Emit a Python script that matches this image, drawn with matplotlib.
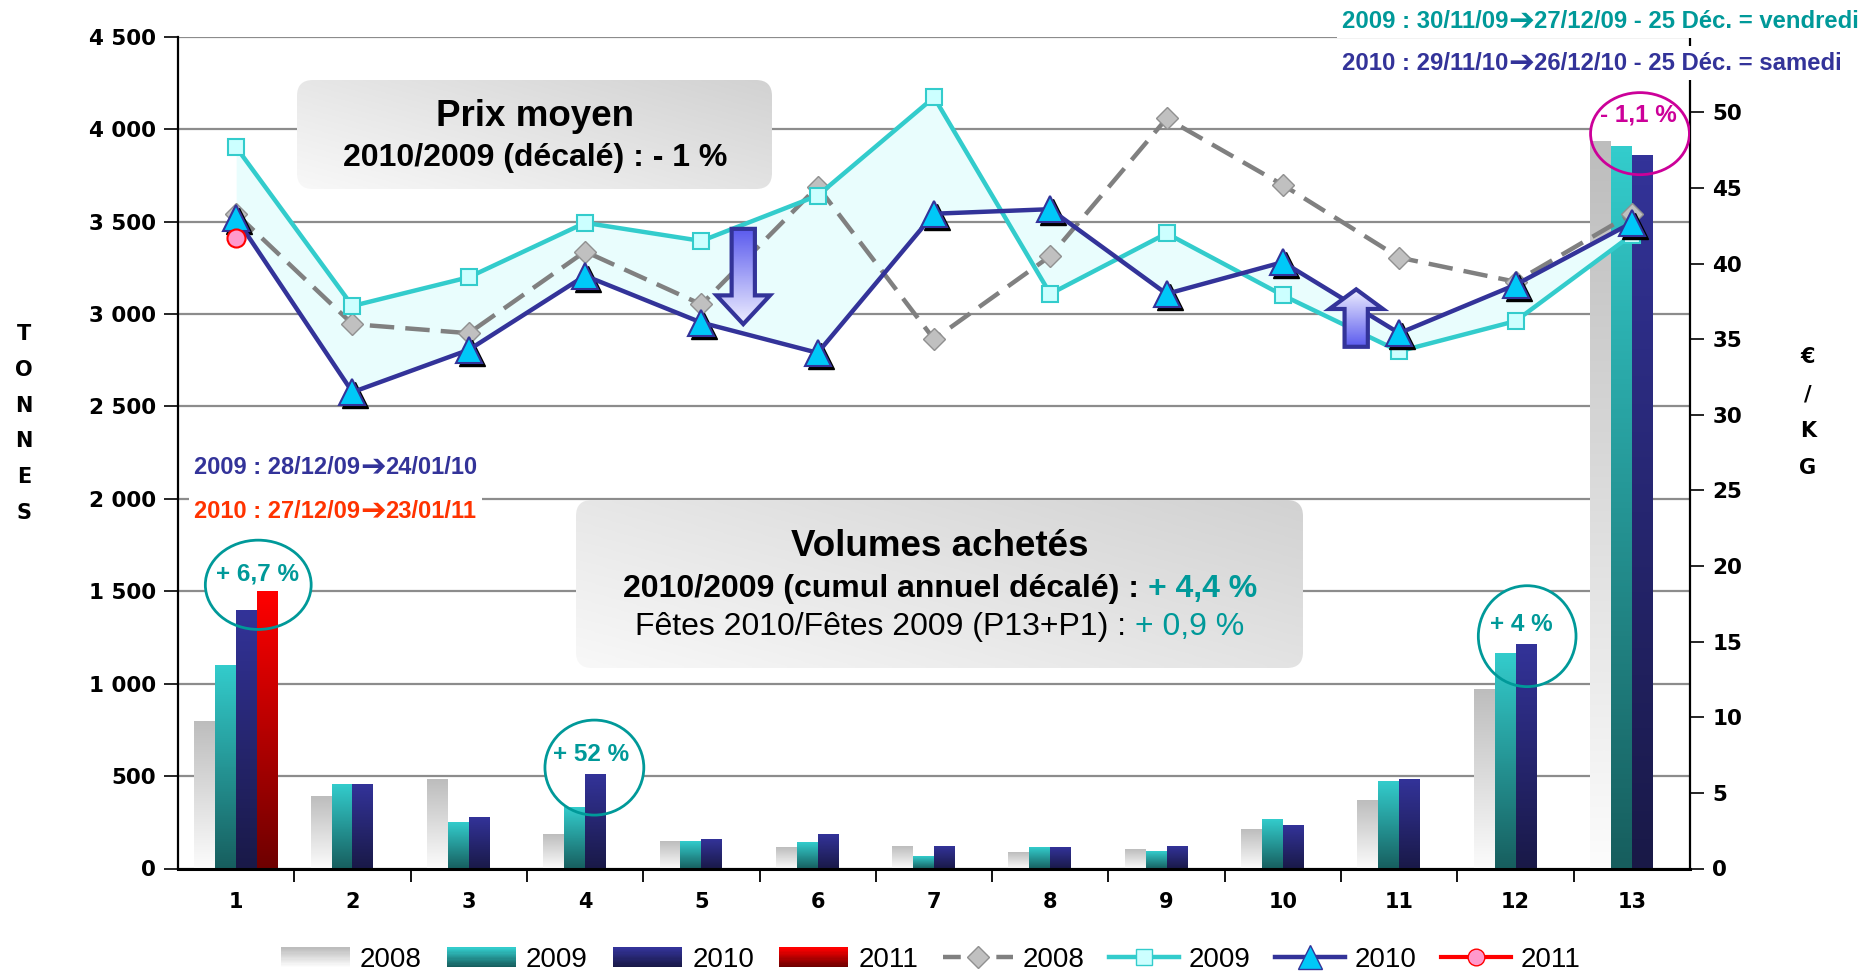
import numpy as np
import matplotlib
matplotlib.use('Agg')
import matplotlib.pyplot as plt
import matplotlib.transforms as mtransforms
from matplotlib.patches import FancyBboxPatch, Ellipse, FancyArrow, Rectangle, Patch
from matplotlib.lines import Line2D
from matplotlib.colors import LinearSegmentedColormap
from matplotlib.legend_handler import HandlerBase
from matplotlib.ticker import FuncFormatter

plt.rcParams['font.family'] = ['Liberation Sans', 'DejaVu Sans']

# ---- data -------------------------------------------------------------
periods = list(range(1, 14))
vol_2008 = [800, 390, 485, 185, 150, 116, 122, 91, 105, 215, 371, 971, 3937]
vol_2009 = [1100, 455, 250, 335, 150, 143, 68, 118, 95, 268, 475, 1166, 3909]
vol_2010 = [1400, 455, 280, 510, 160, 187, 122, 118, 122, 235, 484, 1213, 3862]
periods_2011 = [1]
vol_2011 = [1500]

price_2008 = [43.3, 36.0, 35.4, 40.8, 37.3, 45.1, 35.0, 40.5, 49.6, 45.2, 40.4, 38.8, 43.3]
price_2009 = [47.7, 37.2, 39.1, 42.7, 41.5, 44.5, 51.0, 38.0, 42.0, 37.9, 34.2, 36.2, 41.9]
price_2010 = [43.0, 31.5, 34.3, 39.2, 36.1, 34.1, 43.3, 43.6, 38.0, 40.1, 35.4, 38.6, 42.7]
price_2011 = [41.7]

pct_labels = ['+ 6,7 %', '+ 52 %', '+ 4 %', '- 1,1 %']

# period notes: (before arrow, after arrow)
note_top_2009 = ('2009 : 30/11/09', '27/12/09 - 25 Déc. = vendredi')
note_top_2010 = ('2010 : 29/11/10', '26/12/10 - 25 Déc. = samedi')
note_p1_2009 = ('2009 : 28/12/09', '24/01/10')
note_p1_2010 = ('2010 : 27/12/09', '23/01/11')

W, H = 1863, 973
TEAL = '#009999'
NAVY = '#333399'
ARR = '\u2794'

fig = plt.figure(figsize=(W / 100, H / 100), dpi=100)
ax1 = fig.add_axes([178 / W, 1 - 868.5 / H, (1690 - 178) / W, (868.5 - 36.8) / H])
ax2 = ax1.twinx()

# ---- bars (gradient filled) ------------------------------------------
bw = 0.18
grad_v = np.linspace(0, 1, 128).reshape(-1, 1)
bar_series = [
    ('b2008', periods, vol_2008, -0.27, '#BDBDBD', '#FCFCFC'),
    ('b2009', periods, vol_2009, -0.09, '#33CCCC', '#175E5E'),
    ('b2010', periods, vol_2010, 0.09, '#333399', '#191947'),
    ('b2011', periods_2011, vol_2011, 0.27, '#FF0000', '#6E0000'),
]
for name, xs, vals, off, top, bot in bar_series:
    bars = ax1.bar(np.array(xs) + off, vals, width=bw, color=top, linewidth=0, zorder=2)
    cmap = LinearSegmentedColormap.from_list(name, [bot, top])
    for b in bars:
        x0 = b.get_x()
        ax1.imshow(grad_v, extent=(x0, x0 + b.get_width(), 0, b.get_height()),
                   origin='lower', cmap=cmap, aspect='auto', zorder=2.1,
                   interpolation='bilinear')

ax1.set_axisbelow(True)
ax1.yaxis.grid(True, color='#8C8C8C', linewidth=1.6, zorder=0.5)

# ---- price lines -------------------------------------------------------
ax2.fill_between(periods, price_2009, price_2010, color='#E9FDFD', zorder=1.5, linewidth=0)
ax2.plot(periods, price_2008, color='#808080', lw=3.2, dashes=(5.5, 2.5), marker='D', ms=11,
         mfc='#C0C0C0', mec='#909090', zorder=3)
ax2.plot(periods, price_2009, color='#33CCCC', lw=3.2, marker='s', ms=11,
         mfc='#CCFFFF', mec='#33CCCC', mew=1.5, zorder=3.5)
shadow = mtransforms.offset_copy(ax2.transData, fig=fig, x=3, y=-3, units='dots')
ax2.plot(periods, price_2010, ls='none', marker='^', ms=19, color='black', transform=shadow, zorder=4)
ax2.plot(periods, price_2010, color=NAVY, lw=3.2, marker='^', ms=19,
         mfc='#00C8F8', mec=NAVY, mew=1.5, zorder=4.5)
ax2.plot(periods_2011, price_2011, color='red', lw=3, marker='o', ms=13,
         mfc='#FF99CC', mec='red', mew=1.5, zorder=5)

# block arrows
arrow_specs = [(5.36, 42.3, 36.0, 1.9, ['#EEEEFF', '#5A5AEE']),
               (10.63, 34.5, 38.3, 1.3, ['#5A5AEE', '#EEEEFF'])]
for ax_x, y_from, y_to, hl, cols in arrow_specs:
    arr = FancyArrow(ax_x, y_from, 0, y_to - y_from, width=0.2, head_width=0.46, head_length=hl,
                     length_includes_head=True, facecolor='none', edgecolor=NAVY, lw=3, zorder=6.1)
    ax2.add_patch(arr)
    im = ax2.imshow(grad_v, extent=(ax_x - 0.25, ax_x + 0.25, min(y_from, y_to), max(y_from, y_to)),
                    origin='lower', cmap=LinearSegmentedColormap.from_list('a', cols),
                    aspect='auto', zorder=6, interpolation='bilinear')
    im.set_clip_path(arr)

# ---- ellipses with percentages ---------------------------------------
ell_specs = [(1.19, 1535, 0.91, 483, TEAL, 1594, 1.18),
             (4.08, 546, 0.85, 514, TEAL, 617, 4.05),
             (12.10, 1257, 0.84, 546, TEAL, 1318, 12.05),
             (13.07, 3976, 0.85, 444, '#CC0099', 4076, 13.06)]
for (cx, cy, ew, eh, col, ty, tx), lab in zip(ell_specs, pct_labels):
    ax1.add_patch(Ellipse((cx, cy), ew, eh, facecolor='white', edgecolor='none', zorder=1))
    ax2.add_patch(Ellipse((cx, cy), ew, eh, facecolor='none', edgecolor=col, lw=2,
                          transform=ax1.transData, zorder=7))
    ax2.text(tx, ty, lab, transform=ax1.transData, ha='center', va='center', color=col,
             fontsize=17.5, fontweight='bold', zorder=8)

# ---- axes styling ------------------------------------------------------
ax1.set_xlim(0.5, 13.5)
ax1.set_ylim(0, 4500)
ax2.set_ylim(0, 55)
ax1.set_yticks(np.arange(0, 4501, 500))
ax1.yaxis.set_major_formatter(FuncFormatter(lambda v, p: f'{int(v):,}'.replace(',', ' ')))
ax2.set_yticks(np.arange(0, 51, 5))
ax1.set_xticks(periods)
ax1.set_xticks(np.arange(1.5, 13, 1), minor=True)
ax1.tick_params(axis='x', which='major', length=0, pad=17, labelsize=15)
ax1.tick_params(axis='x', which='minor', length=9, width=1.3)
ax1.tick_params(axis='y', length=10, width=1.2, pad=6, labelsize=15.5)
ax2.tick_params(axis='y', length=10, width=1.2, pad=6, labelsize=15.5)
for lbl in ax1.get_yticklabels() + ax2.get_yticklabels() + ax1.get_xticklabels():
    lbl.set_fontfamily('DejaVu Sans')
    lbl.set_fontweight('bold')
for s in ['top', 'right']:
    ax1.spines[s].set_visible(False)
for s in ['top', 'left', 'bottom']:
    ax2.spines[s].set_visible(False)
ax1.spines['bottom'].set_linewidth(2.2)
ax1.spines['left'].set_linewidth(1.6)
ax2.spines['right'].set_linewidth(1.6)

# ---- overlay in pixel coordinates for boxes and notes -----------------
ov = fig.add_axes([0, 0, 1, 1], zorder=10)
ov.set_axis_off()

def grad_box(x0, y0, x1, y1):
    box = FancyBboxPatch((x0, y0), x1 - x0, y1 - y0, boxstyle='round,pad=0,rounding_size=16',
                         facecolor='none', edgecolor='none')
    ov.add_patch(box)
    ny, nx = 64, 128
    jj, ii = np.meshgrid(np.linspace(0, 1, nx), np.linspace(0, 1, ny))
    g = 0.55 * jj + 0.45 * (1 - ii)
    im = ov.imshow(g, extent=(x0, x1, y1, y0), origin='upper', aspect='auto',
                   cmap=LinearSegmentedColormap.from_list('bx', ['#F8F8F8', '#D2D2D2']),
                   interpolation='bilinear')
    im.set_clip_path(box)

grad_box(297, 80, 772, 189)
grad_box(576, 500, 1303, 668)

ov.text(535, 116, 'Prix moyen', ha='center', va='center', fontsize=26.5, fontweight='bold')
ov.text(535, 158, '2010/2009 (décalé) : - 1 %', ha='center', va='center', fontsize=23, fontweight='bold')
ov.text(940, 546, 'Volumes achetés', ha='center', va='center', fontsize=26.5, fontweight='bold')

# rows made of several text pieces, laid out after a first draw
rows = []

def text_row(x, y, pieces, align='center', white=False):
    arts = []
    for s, kw in pieces:
        arts.append(ov.text(0, y, s, ha='left', va='center', **kw))
    rows.append((x, y, arts, align, white))

text_row(940, 589, [('2010/2009 (cumul annuel décalé) : ', dict(fontsize=23, fontweight='bold')),
                    ('+ 4,4 %', dict(fontsize=23, fontweight='bold', color=TEAL))])
text_row(940, 627, [('Fêtes 2010/Fêtes 2009 (P13+P1) : ', dict(fontsize=23)),
                    ('+ 0,9 %', dict(fontsize=23, color=TEAL))])

def note_row(x, y, note, col, size):
    arrow_kw = dict(fontsize=size * 1.3, color=col, fontfamily='DejaVu Sans', fontweight='bold')
    kw = dict(fontsize=size, fontweight='bold', color=col)
    text_row(x, y, [(note[0], kw), (ARR, arrow_kw), (note[1], kw)], align='left', white=True)

note_row(1342, 21, note_top_2009, TEAL, 17.2)
note_row(1342, 63, note_top_2010, NAVY, 17.2)
note_row(194, 467, note_p1_2009, NAVY, 17)
note_row(194, 511, note_p1_2010, '#FF3300', 17)

for i, ch in enumerate('TONNES'):
    ov.text(24, 334 + i * 35.8, ch, ha='center', va='center', fontsize=15,
            fontweight='bold', fontfamily='DejaVu Sans')
for i, ch in enumerate(['€', '/', 'K', 'G']):
    ov.text(1808, 357 + i * 37, ch, ha='center', va='center', fontsize=15,
            fontweight='bold', fontfamily='DejaVu Sans')

ov.set_xlim(0, W)
ov.set_ylim(H, 0)

# ---- legend ------------------------------------------------------------
class GradHandler(HandlerBase):
    def __init__(self, top, bot):
        super().__init__()
        self.cmap = LinearSegmentedColormap.from_list('lg', [bot, top])

    def create_artists(self, legend, orig_handle, xd, yd, width, height, fontsize, trans):
        n = 16
        return [Rectangle((-xd, -yd + height * i / n), width, height / n + 0.3,
                          facecolor=self.cmap(i / (n - 1)), edgecolor='none', transform=trans)
                for i in range(n)]

bar_handles = [Patch() for _ in bar_series]
hmap = {h: GradHandler(s[4], s[5]) for h, s in zip(bar_handles, bar_series)}
line_handles = [
    Line2D([], [], color='#808080', lw=3.2, dashes=(4, 2), marker='D', ms=11, mfc='#C0C0C0', mec='#909090'),
    Line2D([], [], color='#33CCCC', lw=3.2, marker='s', ms=11, mfc='#CCFFFF', mec='#33CCCC'),
    Line2D([], [], color=NAVY, lw=3.2, marker='^', ms=17, mfc='#00C8F8', mec=NAVY),
    Line2D([], [], color='red', lw=3, marker='o', ms=12, mfc='#FF99CC', mec='red'),
]
fig.legend(bar_handles + line_handles, ['2008', '2009', '2010', '2011'] * 2,
           handler_map=hmap, loc='center', bbox_to_anchor=(0.4995, 1 - 960 / H), ncol=8,
           frameon=False, fontsize=20, handlelength=2.5, handletextpad=0.35,
           columnspacing=0.9, borderpad=0)

# lay out the multi-piece rows
fig.canvas.draw()
r = fig.canvas.get_renderer()
for x, y, arts, align, white in rows:
    widths = [a.get_window_extent(r).width for a in arts]
    total = sum(widths)
    x0 = x - total / 2 if align == 'center' else x
    cur = x0
    for a, w in zip(arts, widths):
        a.set_x(cur)
        cur += w
    if white:
        ov.add_patch(Rectangle((x0 - 5, y - 17), total + 10, 34, facecolor='white',
                               edgecolor='none', zorder=1.5))
        for a in arts:
            a.set_zorder(3)

fig.savefig('out.png', dpi=100)
